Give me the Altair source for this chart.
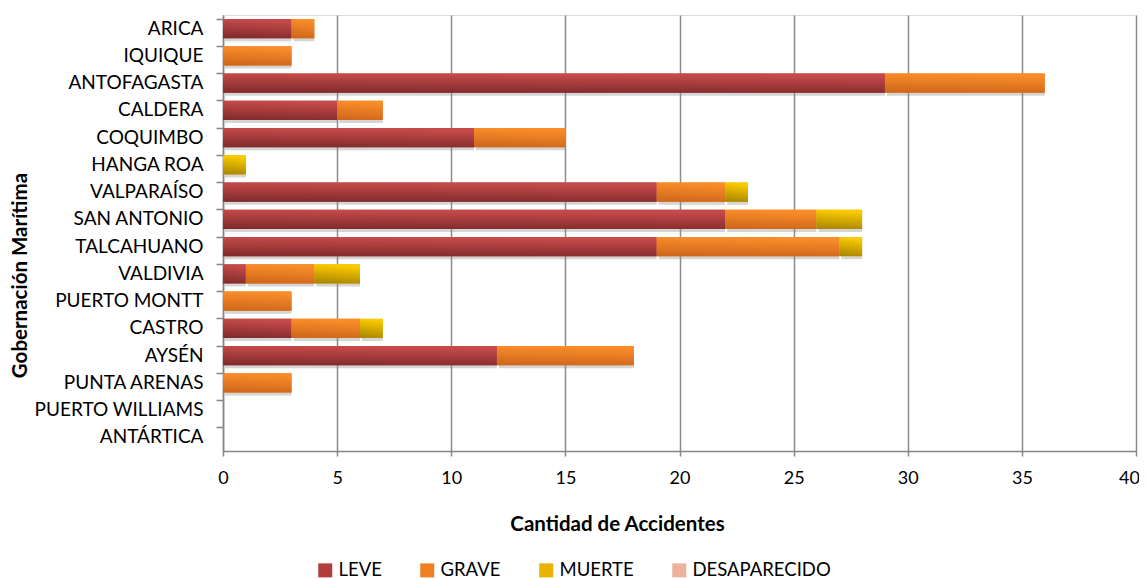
import altair as alt
import pandas as pd

categories = ["ARICA", "IQUIQUE", "ANTOFAGASTA", "CALDERA", "COQUIMBO", "HANGA ROA",
              "VALPARAÍSO", "SAN ANTONIO", "TALCAHUANO", "VALDIVIA", "PUERTO MONTT",
              "CASTRO", "AYSÉN", "PUNTA ARENAS", "PUERTO WILLIAMS", "ANTÁRTICA"]
series = ["LEVE", "GRAVE", "MUERTE", "DESAPARECIDO"]
leve = [3, 0, 29, 5, 11, 0, 19, 22, 19, 1, 0, 3, 12, 0, 0, 0]
grave = [1, 3, 7, 2, 4, 0, 3, 4, 8, 3, 3, 3, 6, 3, 0, 0]
muerte = [0, 0, 0, 0, 0, 1, 1, 2, 1, 2, 0, 1, 0, 0, 0, 0]
desaparecido = [0, 0, 0, 0, 0, 0, 0, 0, 0, 0, 0, 0, 0, 0, 0, 0]
x_ticks = [0, 5, 10, 15, 20, 25, 30, 35, 40]

solid = ["#B13D3E", "#F07F22", "#E9B300", "#EDB39A"]
grads = [
    ["#7E2A2B", "#C74A4A"],
    ["#CC661B", "#FA8C29"],
    ["#A88300", "#FACB00"],
    ["#C99883", "#F8C4AE"],
]

rows = []
for s_i, (name, vals) in enumerate(zip(series, [leve, grave, muerte, desaparecido])):
    for c, v in zip(categories, vals):
        rows.append({"gob": c, "serie": name, "valor": v, "orden": s_i})
df = pd.DataFrame(rows)

FONT = "Lato"
base = alt.Chart(df).transform_stack(
    stack="valor", as_=["x0", "x1"], groupby=["gob"], sort=[alt.SortField("orden")]
)

y_enc = alt.Y(
    "gob:N", sort=categories,
    scale=alt.Scale(paddingInner=0.3, paddingOuter=0.15),
    axis=alt.Axis(title="Gobernación Marítima", titleFont=FONT, titleFontSize=20.5,
                  titleFontWeight="bold", titleColor="#000", titlePadding=3,
                  titleY=260,
                  labelFont=FONT, labelFontSize=19, labelColor="#000",
                  labelPadding=13, tickSize=7, tickColor="#868686", tickWidth=1.5,
                  bandPosition=0, domainColor="#868686", domainWidth=1.5,
                  grid=False),
)
x_axis = alt.Axis(title="Cantidad de Accidentes", titleFont=FONT, titleFontSize=20.5,
                  titleFontWeight="bold", titleColor="#000", titlePadding=27,
                  titleX=394,
                  labelFont=FONT, labelFontSize=18, labelColor="#000",
                  labelPadding=13, ticks=True, tickSize=5, tickColor="#868686",
                  tickWidth=1.5, values=x_ticks, labelFlush=False,
                  labelOffset={"condition": {"test": "datum.value >= 40", "value": -7},
                               "value": 0},
                  domainColor="#868686", domainWidth=1.5,
                  grid=True, gridColor="#8C8C8C", gridWidth=1.5)
x_scale = alt.Scale(domain=[0, 40], nice=False)

shadow = base.transform_filter(alt.datum.valor > 0).mark_bar(
    color="#888888", opacity=0.35, xOffset=2, yOffset=3
).encode(x=alt.X("x0:Q", scale=x_scale, axis=x_axis), x2="x1:Q", y=y_enc)

legend_layer = base.mark_bar().encode(
    x=alt.X("x0:Q", scale=x_scale, axis=x_axis), x2="x1:Q", y=y_enc,
    color=alt.Color("serie:N", sort=series,
                    scale=alt.Scale(domain=series, range=solid),
                    legend=alt.Legend(title=None, orient="none", direction="horizontal",
                                      legendX=93, legendY=546, labelFont=FONT,
                                      labelFontSize=18.5, labelColor="#000",
                                      symbolType="square", symbolSize=196,
                                      symbolStrokeWidth=0, columnPadding=36,
                                      labelOffset=4)),
)

layers = [shadow, legend_layer]
for name, (c0, c1) in zip(series, grads):
    g = alt.LinearGradient(gradient="linear", x1=0, y1=1, x2=0.15, y2=0,
                           stops=[alt.GradientStop(color=c0, offset=0),
                                  alt.GradientStop(color=c1, offset=1)])
    layers.append(
        base.transform_filter(alt.datum.serie == name).mark_bar(color=g).encode(
            x=alt.X("x0:Q", scale=x_scale, axis=x_axis), x2="x1:Q", y=y_enc)
    )

chart = alt.layer(*layers).properties(
    width=913, height=436,
    padding={"left": 215, "top": 7, "right": 3, "bottom": 128},
    autosize=alt.AutoSizeParams(type="none"),
).configure_view(fill="#FDF4EF", stroke=None).configure(background="white")

chart.save("out.html", embed_options={"renderer": "svg", "actions": False})
